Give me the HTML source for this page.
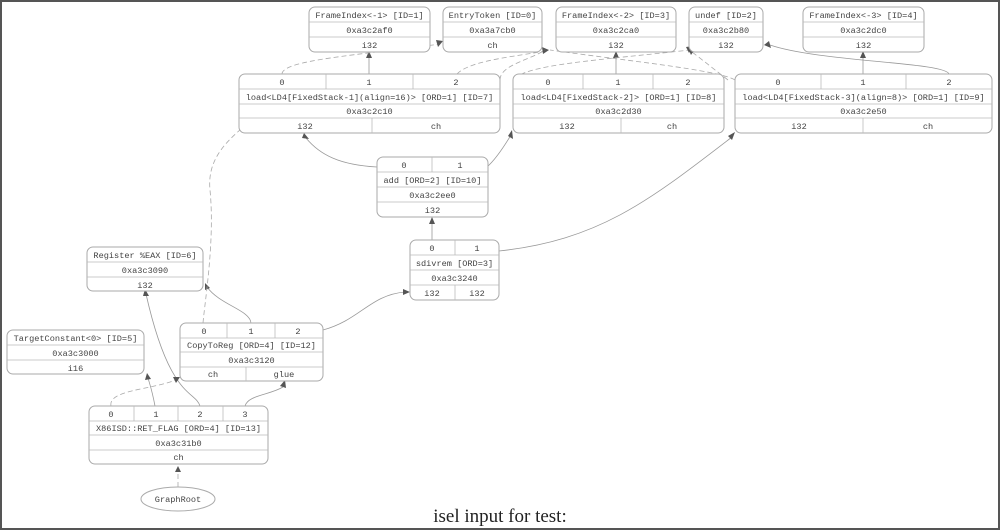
<!DOCTYPE html>
<html><head><meta charset="utf-8"><style>
html,body{margin:0;padding:0;background:#fff}
svg{display:block}
text{font-family:"Liberation Mono",monospace;font-size:8.6px;fill:#444;text-anchor:middle}
.b{fill:#fff;stroke:#aaa;stroke-width:1}
.l{stroke:#bbb;stroke-width:0.8;fill:none}
.e{stroke:#999;stroke-width:0.8;fill:none}
.d{stroke:#aaa;stroke-width:0.8;fill:none;stroke-dasharray:5,3}
.a{fill:#555}
</style></head><body>
<svg width="1000" height="530" viewBox="0 0 1000 530" xmlns="http://www.w3.org/2000/svg">
<rect x="1" y="1" width="998" height="528" fill="#fff" stroke="#555" stroke-width="2"/>

<!-- edges -->
<g>
<path class="e" d="M369,74 V56"/><polygon class="a" points="366,58 369,51 372,58"/>
<path class="d" d="M282,74 C282,60 360,55 440,44"/><polygon class="a" points="436,40 443,41 438,47"/>
<path class="d" d="M457,74 C470,60 520,56 545,51"/><polygon class="a" points="542,47 549,50 543,54"/>
<path class="e" d="M616,74 V56"/><polygon class="a" points="613,58 616,51 619,58"/>
<path class="d" d="M515,80 C520,65 600,60 690,50"/><polygon class="a" points="686,47 693,46 689,53"/>
<path class="d" d="M500,80 C500,65 530,60 545,50"/>
<path class="e" d="M863,74 V56"/><polygon class="a" points="860,58 863,51 866,58"/>
<path class="e" d="M949,74 C945,62 820,62 770,45"/><polygon class="a" points="769,41 764,45 771,48"/>
<path class="d" d="M728,80 C710,66 700,58 692,52"/><polygon class="a" points="688,48 691,55 695,49"/>
<path class="d" d="M735,80 C720,70 620,60 550,50"/>
<path class="e" d="M377,167 C340,165 320,155 306,138"/><polygon class="a" points="302,138 304,133 309,139"/>
<path class="e" d="M487,167 C495,160 505,145 511,135"/><polygon class="a" points="508,136 512,130 513,139"/>
<path class="e" d="M432,240 V222"/><polygon class="a" points="429,224 432,217 435,224"/>
<path class="e" d="M499,251 C600,240 650,200 732,137"/><polygon class="a" points="728,136 735,132 732,140"/>
<path class="e" d="M323,330 C360,320 370,295 405,292"/><polygon class="a" points="403,289 410,292 403,295"/>
<path class="e" d="M251,323 C250,310 220,305 207,287"/><polygon class="a" points="205,290 205,283 210,288"/>
<path class="d" d="M203,323 C205,300 215,240 210,190 C205,140 260,125 265,100"/>
<path class="e" d="M200,406 C195,390 170,400 146,294"/><polygon class="a" points="143,296 145,289 149,296"/>
<path class="e" d="M155,406 C152,390 150,385 148,378"/><polygon class="a" points="145,380 147,373 151,379"/>
<path class="d" d="M111,406 C108,390 150,390 176,380"/><polygon class="a" points="173,377 180,377 176,383"/>
<path class="e" d="M245,406 C248,395 270,395 283,387" stroke-width="1.4"/><polygon class="a" points="280,386 285,380 286,388"/>
<path class="d" d="M178,487 V471"/><polygon class="a" points="175,472 178,466 181,472"/>
</g>

<!-- FrameIndex -1 -->
<rect class="b" x="309" y="7" width="121" height="45" rx="6"/>
<path class="l" d="M309,22H430M309,37H430"/>
<text x="369.5" y="18">FrameIndex&lt;-1&gt; [ID=1]</text><text x="369.5" y="33">0xa3c2af0</text><text x="369.5" y="48">i32</text>
<!-- EntryToken -->
<rect class="b" x="443" y="7" width="99" height="45" rx="6"/>
<path class="l" d="M443,22H542M443,37H542"/>
<text x="492.5" y="18">EntryToken [ID=0]</text><text x="492.5" y="33">0xa3a7cb0</text><text x="492.5" y="48">ch</text>
<!-- FrameIndex -2 -->
<rect class="b" x="556" y="7" width="120" height="45" rx="6"/>
<path class="l" d="M556,22H676M556,37H676"/>
<text x="616" y="18">FrameIndex&lt;-2&gt; [ID=3]</text><text x="616" y="33">0xa3c2ca0</text><text x="616" y="48">i32</text>
<!-- undef -->
<rect class="b" x="689" y="7" width="74" height="45" rx="6"/>
<path class="l" d="M689,22H763M689,37H763"/>
<text x="726" y="18">undef [ID=2]</text><text x="726" y="33">0xa3c2b80</text><text x="726" y="48">i32</text>
<!-- FrameIndex -3 -->
<rect class="b" x="803" y="7" width="121" height="45" rx="6"/>
<path class="l" d="M803,22H924M803,37H924"/>
<text x="863.5" y="18">FrameIndex&lt;-3&gt; [ID=4]</text><text x="863.5" y="33">0xa3c2dc0</text><text x="863.5" y="48">i32</text>

<!-- load 7 -->
<rect class="b" x="239" y="74" width="261" height="59" rx="6"/>
<path class="l" d="M239,89H500M239,104H500M239,118H500M326,74V89M413,74V89M372,118V133"/>
<text x="282" y="85">0</text><text x="369" y="85">1</text><text x="456" y="85">2</text>
<text x="369.5" y="100">load&lt;LD4[FixedStack-1](align=16)&gt; [ORD=1] [ID=7]</text>
<text x="369.5" y="114">0xa3c2c10</text><text x="305" y="129">i32</text><text x="436" y="129">ch</text>
<!-- load 8 -->
<rect class="b" x="513" y="74" width="211" height="59" rx="6"/>
<path class="l" d="M513,89H724M513,104H724M513,118H724M583,74V89M653,74V89M621,118V133"/>
<text x="548" y="85">0</text><text x="618" y="85">1</text><text x="688" y="85">2</text>
<text x="618.5" y="100">load&lt;LD4[FixedStack-2]&gt; [ORD=1] [ID=8]</text>
<text x="618.5" y="114">0xa3c2d30</text><text x="567" y="129">i32</text><text x="672" y="129">ch</text>
<!-- load 9 -->
<rect class="b" x="735" y="74" width="257" height="59" rx="6"/>
<path class="l" d="M735,89H992M735,104H992M735,118H992M821,74V89M906,74V89M863,118V133"/>
<text x="778" y="85">0</text><text x="863" y="85">1</text><text x="949" y="85">2</text>
<text x="863.5" y="100">load&lt;LD4[FixedStack-3](align=8)&gt; [ORD=1] [ID=9]</text>
<text x="863.5" y="114">0xa3c2e50</text><text x="799" y="129">i32</text><text x="928" y="129">ch</text>

<!-- add -->
<rect class="b" x="377" y="157" width="111" height="60" rx="6"/>
<path class="l" d="M377,172H488M377,187H488M377,202H488M432,157V172"/>
<text x="404" y="168">0</text><text x="460" y="168">1</text>
<text x="432.5" y="183">add [ORD=2] [ID=10]</text><text x="432.5" y="198">0xa3c2ee0</text><text x="432.5" y="213">i32</text>
<!-- sdivrem -->
<rect class="b" x="410" y="240" width="89" height="60" rx="6"/>
<path class="l" d="M410,255H499M410,270H499M410,285H499M455,240V255M455,285V300"/>
<text x="432" y="251">0</text><text x="477" y="251">1</text>
<text x="454.5" y="266">sdivrem [ORD=3]</text><text x="454.5" y="281">0xa3c3240</text>
<text x="432" y="296">i32</text><text x="477" y="296">i32</text>

<!-- Register -->
<rect class="b" x="87" y="247" width="116" height="44" rx="6"/>
<path class="l" d="M87,262H203M87,277H203"/>
<text x="145" y="258">Register %EAX [ID=6]</text><text x="145" y="273">0xa3c3090</text><text x="145" y="288">i32</text>
<!-- TargetConstant -->
<rect class="b" x="7" y="330" width="137" height="44" rx="6"/>
<path class="l" d="M7,345H144M7,360H144"/>
<text x="75.5" y="341">TargetConstant&lt;0&gt; [ID=5]</text><text x="75.5" y="356">0xa3c3000</text><text x="75.5" y="371">i16</text>
<!-- CopyToReg -->
<rect class="b" x="180" y="323" width="143" height="58" rx="6"/>
<path class="l" d="M180,338H323M180,352H323M180,367H323M227,323V338M275,323V338M246,367V381"/>
<text x="204" y="334">0</text><text x="251" y="334">1</text><text x="298" y="334">2</text>
<text x="251.5" y="348">CopyToReg [ORD=4] [ID=12]</text><text x="251.5" y="363">0xa3c3120</text>
<text x="213" y="377">ch</text><text x="284" y="377">glue</text>
<!-- RET_FLAG -->
<rect class="b" x="89" y="406" width="179" height="58" rx="6"/>
<path class="l" d="M89,421H268M89,435H268M89,450H268M134,406V421M178,406V421M223,406V421"/>
<text x="111" y="417">0</text><text x="156" y="417">1</text><text x="200" y="417">2</text><text x="245" y="417">3</text>
<text x="178.5" y="431">X86ISD::RET_FLAG [ORD=4] [ID=13]</text><text x="178.5" y="446">0xa3c31b0</text><text x="178.5" y="460">ch</text>
<!-- GraphRoot -->
<ellipse class="b" cx="178" cy="499" rx="37" ry="12"/>
<text x="178" y="502">GraphRoot</text>

<text x="500" y="522" style="font-family:'Liberation Serif',serif;font-size:19px;fill:#222">isel input for test:</text>
</svg>
</body></html>
